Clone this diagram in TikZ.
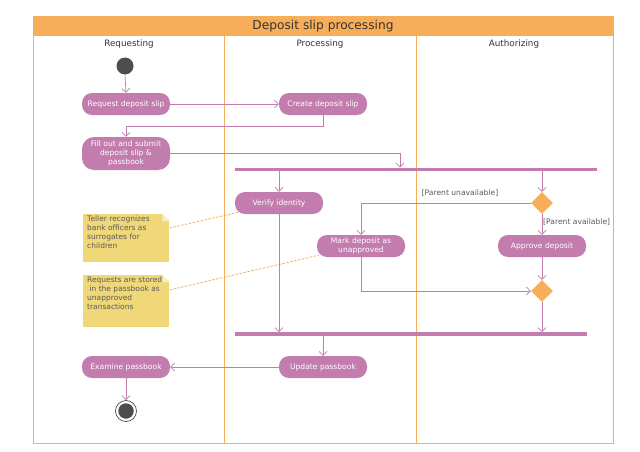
\documentclass[tikz,border=0pt]{standalone}
\usepackage{fontspec}
\setmainfont{DejaVu Sans}
\usetikzlibrary{arrows.meta,calc,shapes.geometric}
\definecolor{actc}{RGB}{194,124,174}
\definecolor{orng}{RGB}{247,174,90}
\definecolor{notec}{RGB}{240,216,120}
\definecolor{notefold}{RGB}{250,238,190}
\definecolor{darkc}{RGB}{77,77,77}
\definecolor{txtc}{RGB}{51,51,51}
\definecolor{grayt}{RGB}{90,90,90}
\tikzset{
  act/.style={fill=actc, draw=none, rounded corners=10pt, minimum width=88pt, minimum height=22pt,
    text=white, font=\fontsize{7.6}{9.4}\selectfont, align=center, inner sep=1pt},
  conn/.style={draw=actc, line width=0.7pt, -{Straight Barb[length=4pt,width=8pt]}},
  bar/.style={fill=actc, draw=none, minimum height=3.5pt, inner sep=0pt},
  decis/.style={diamond, fill=orng, draw=none, minimum width=22pt, minimum height=22pt, inner sep=0pt},
  lane/.style={draw=orng, line width=0.9pt},
  hdr/.style={text=txtc, font=\fontsize{8.8}{10}\selectfont},
  guard/.style={text=grayt, font=\fontsize{7.6}{9}\selectfont, inner sep=1pt},
  notebox/.style={fill=notec, draw=none, inner sep=0pt, anchor=north west},
  notetext/.style={text=grayt, font=\fontsize{7.5}{9}\selectfont, align=left, anchor=north west, inner sep=0pt},
  notelink/.style={draw=orng, dashed, dash pattern=on 2.5pt off 1.5pt, line width=0.8pt},
}
\begin{document}
\begin{tikzpicture}[x=1pt,y=-1pt]
\useasboundingbox (0,0) rectangle (640,452);
\fill[white] (0,0) rectangle (640,452);
% frame
\fill[orng] (33,16) rectangle (613,36);
\node[text=txtc, font=\fontsize{12.2}{14}\selectfont] (title) at (323,26) {Deposit slip processing};
\draw[lane] (33,16) rectangle (613,443);
\draw[lane] (224,36) -- (224,443);
\draw[lane] (416,36) -- (416,443);
\node[hdr] (h1) at (129,44) {Requesting};
\node[hdr] (h2) at (320,44) {Processing};
\node[hdr] (h3) at (514,44) {Authorizing};

% nodes
\node[circle, fill=darkc, minimum size=17pt, inner sep=0pt] (init) at (125,66) {};
\node[act] (req) at (126,104) {Request deposit slip};
\node[act] (create) at (323,104) {Create deposit slip};
\node[act, minimum height=33pt, rounded corners=12pt] (fill) at (126,153.5) {Fill out and submit\\deposit slip \&\\passbook};
\node[bar, minimum width=362pt] (fork) at (416,169.5) {};
\node[act] (verify) at (279,203) {Verify identity};
\node[decis] (dec) at (542,203) {};
\node[act] (mark) at (361,246) {Mark deposit as\\unapproved};
\node[act] (approve) at (542,246) {Approve deposit};
\node[decis] (merge) at (542,291) {};
\node[bar, minimum width=352pt] (join) at (411,334) {};
\node[act] (update) at (323,367) {Update passbook};
\node[act] (exam) at (126,367) {Examine passbook};
\node[circle, draw=darkc, fill=white, line width=0.7pt, minimum size=21pt, inner sep=0pt] (final) at (126,411) {};
\node[circle, fill=darkc, minimum size=15.5pt, inner sep=0pt] (finalin) at (126,411) {};

% notes
\node[notebox, minimum width=86pt, minimum height=48pt] (n1) at (83,214) {};
\fill[white] (n1.north east) -- ++(-7,0) -- ++(7,7) -- cycle;
\fill[notefold] ([xshift=-7pt]n1.north east) -- ++(0,7) -- ++(7,0) -- cycle;
\node[notetext] (n1t) at (87,216) {Teller recognizes\\bank officers as\\surrogates for\\children};
\node[notebox, minimum width=86pt, minimum height=52pt] (n2) at (83,275) {};
\fill[white] (n2.north east) -- ++(-7,0) -- ++(7,7) -- cycle;
\fill[notefold] ([xshift=-7pt]n2.north east) -- ++(0,7) -- ++(7,0) -- cycle;
\node[notetext] (n2t) at (87,277) {Requests are stored\\\ in the passbook as\\unapproved\\transactions};
\draw[notelink] ($(n1.north east)+(0,14)$) -- ($(verify.south west)+(4,-2)$);
\draw[notelink] ($(n2.north east)+(0,15)$) -- ($(mark.south west)+(2,-2)$);

% connectors
\draw[conn] (init.south) -- (req.north);
\draw[conn] (req.east) -- (create.west);
\draw[conn] (create.south) -- ++(0,11) -| (fill.north);
\draw[conn] (fill.east) -| ([xshift=-16pt]fork.north);
\draw[conn] (verify.north |- fork.south) -- (verify.north);
\draw[conn] (dec.north |- fork.south) -- (dec.north);
\draw[conn] (dec.west) -| (mark.north);
\node[guard] (g1) at (460,193) {[Parent unavailable]};
\draw[conn] (dec.south) -- (approve.north);
\node[guard, anchor=west] (g2) at (542,222) {[Parent available]};
\draw[conn] (approve.south) -- (merge.north);
\draw[conn] (mark.south) |- (merge.west);
\draw[conn] (merge.south) -- (merge.south |- join.north);
\draw[conn] (verify.south) -- (verify.south |- join.north);
\draw[conn] (update.north |- join.south) -- (update.north);
\draw[conn] (update.west) -- (exam.east);
\draw[conn] (exam.south) -- (final.north);
\end{tikzpicture}
\end{document}
